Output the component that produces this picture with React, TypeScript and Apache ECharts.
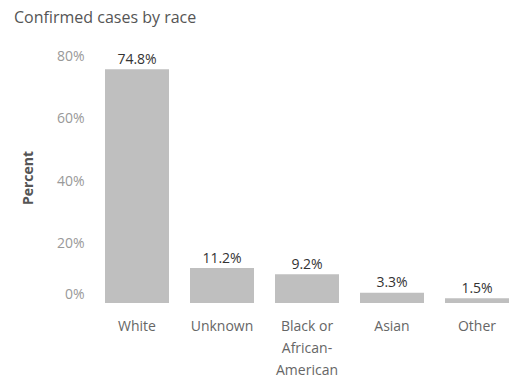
import React, { useEffect, useRef } from "react";
import * as echarts from "echarts";

const categories = ["White", "Unknown", "Black or\nAfrican-\nAmerican", "Asian", "Other"];
const values = [74.8, 11.2, 9.2, 3.3, 1.5];
const yTicks = [0, 20, 40, 60, 80];

const FONT = "Open Sans";

export default function App() {
  const ref = useRef<HTMLDivElement>(null);
  useEffect(() => {
    document.body.style.margin = "0";
    if (!ref.current) return;
    const chart = echarts.init(ref.current, undefined, { renderer: "svg" });
    chart.setOption({
      animation: false,
      backgroundColor: "#ffffff",
      title: {
        text: "Confirmed cases by race",
        left: 9,
        top: 4,
        textStyle: { fontFamily: FONT, fontSize: 16, fontWeight: "normal", color: "#555555" },
      },
      grid: { left: 94.5, width: 425, top: 53, bottom: 77, containLabel: false },
      xAxis: {
        type: "category",
        data: categories,
        axisLine: { show: false },
        axisTick: { show: false },
        axisLabel: {
          interval: 0,
          margin: 11,
          fontFamily: FONT,
          fontSize: 14,
          lineHeight: 22,
          color: "#666666",
        },
      },
      yAxis: {
        type: "value",
        min: yTicks[0],
        max: yTicks[yTicks.length - 1],
        interval: 20,
        name: "Percent",
        nameLocation: "middle",
        nameRotate: 90,
        nameGap: 60,
        nameTextStyle: { fontFamily: FONT, fontSize: 14, fontWeight: "bold", color: "#555555" },
        splitLine: { show: false },
        axisLine: { show: false },
        axisTick: { show: false },
        axisLabel: {
          margin: 10,
          fontFamily: FONT,
          fontSize: 14,
          color: "#999999",
          formatter: (v: number) => (v === 0 ? "{z|0%}" : "{t|" + v + "%}"),
          rich: {
            z: { fontFamily: FONT, fontSize: 14, color: "#999999", padding: [0, 0, 20, 0] },
            t: { fontFamily: FONT, fontSize: 14, color: "#999999", padding: [4, 0, 0, 0] },
          },
        },
      },
      series: [
        {
          type: "bar",
          data: values,
          barWidth: 64,
          itemStyle: { color: "#bfbfbf" },
          label: {
            show: true,
            position: "top",
            distance: 4,
            fontFamily: FONT,
            fontSize: 14,
            color: "#333333",
            formatter: (p: any) => p.value.toFixed(1) + "%",
          },
        },
      ],
    });
    return () => chart.dispose();
  }, []);
  return <div ref={ref} style={{ width: 530, height: 380 }} />;
}
